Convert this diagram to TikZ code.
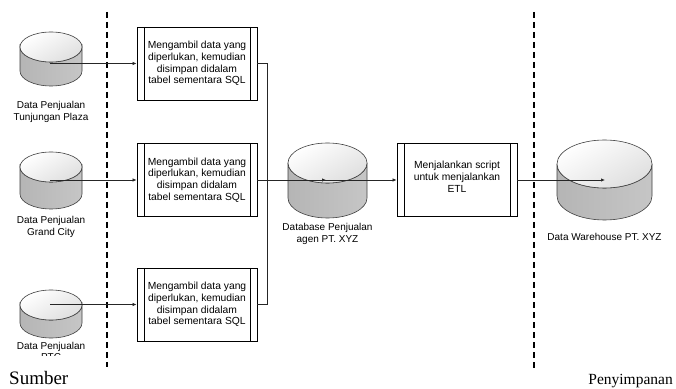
\documentclass[tikz,border=0pt]{standalone}
\usepackage{fontspec}
\setmainfont{Liberation Serif}
\newfontfamily\arialfont{Liberation Sans}
\usetikzlibrary{arrows.meta}

% drum-shaped data store: centre x, top y, bottom y, x radius, y radius
\newcommand\drumshape[5]{%
  \shadedraw[left color=gray!58, middle color=gray!10, right color=gray!45,
    draw=black!75, line width=0.6pt]
    ({#1-#4},{#2-#5}) -- ({#1-#4},{#3+#5})
    arc[start angle=180, end angle=360, x radius=#4, y radius=#5]
    -- ({#1+#4},{#2-#5})
    arc[start angle=0, end angle=-180, x radius=#4, y radius=#5] -- cycle;
  \shadedraw[top color=white, bottom color=gray!25, shading angle=30,
    draw=black!75, line width=0.6pt]
    ({#1},{#2-#5}) ellipse[x radius=#4, y radius=#5];
}

\begin{document}
\begin{tikzpicture}[x=1pt, y=1pt,
  proc/.style={draw, line width=0.8pt, minimum width=120pt, minimum height=73pt,
    inner sep=0pt, align=center,
    font=\arialfont\fontsize{10.3}{11.7}\selectfont,
    path picture={\draw[line width=0.8pt]
      ([xshift=7pt]path picture bounding box.north west) --
      ([xshift=7pt]path picture bounding box.south west)
      ([xshift=-7pt]path picture bounding box.north east) --
      ([xshift=-7pt]path picture bounding box.south east);}},
  lbl/.style={align=center, inner sep=0pt,
    font=\arialfont\fontsize{10}{11.5}\selectfont},
  wire/.style={line width=0.7pt, draw=black!85},
  conn/.style={wire, -{Latex[length=4pt, width=3.4pt]}},
  sep/.style={line width=1.6pt, dash pattern=on 6pt off 4pt},
  heading/.style={inner sep=0pt}]

\useasboundingbox (0,0) rectangle (676,388);
\fill[white] (0,0) rectangle (676,388);

% column separators
\coordinate (s1t) at (107,376);
\coordinate (s1b) at (107,21);
\coordinate (s2t) at (534,376);
\coordinate (s2b) at (534,18);
\draw[sep] (s1t) -- (s1b);
\draw[sep] (s2t) -- (s2b);

% source stores
\drumshape{51}{356}{302}{31}{15}
\drumshape{51}{236}{179}{31}{15}
\drumshape{51}{98}{50}{31}{15}
\coordinate (tp) at (50,324.5);
\coordinate (gc) at (50,208);
\coordinate (ptc) at (50,83.5);
\node[lbl] (tplbl) at (51,276) {Data Penjualan\\Tunjungan Plaza};
\node[lbl] (gclbl) at (51,161) {Data Penjualan\\Grand City};
\begin{scope}
  \clip (0,32.5) rectangle (104,60);
  \node[lbl] (ptclbl) at (51,36.5) {Data Penjualan\\PTC};
\end{scope}

% staging database and warehouse
\drumshape{327.5}{245}{170}{39.5}{20}
\drumshape{604.5}{248}{168}{47.5}{24}
\coordinate (db) at (326,208);
\coordinate (dw) at (605,208);
\node[lbl] (dblbl) at (327.5,154) {Database Penjualan\\agen PT. XYZ};
\node[lbl] (dwlbl) at (604.5,151) {Data Warehouse PT. XYZ};

% processes
\node[proc] (b1) at (197,324.5) {Mengambil data yang\\diperlukan, kemudian\\disimpan didalam\\tabel sementara SQL};
\node[proc] (b2) at (197,208) {Mengambil data yang\\diperlukan, kemudian\\disimpan didalam\\tabel sementara SQL};
\node[proc] (b3) at (197,83.5) {Mengambil data yang\\diperlukan, kemudian\\disimpan didalam\\tabel sementara SQL};
\node[proc] (b4) at (457,208) {Menjalankan script\\untuk menjalankan\\ETL\\[-5pt]{}};

% flows
\coordinate (jn) at (267,208);
\draw[conn] (tp) -- (b1.west);
\draw[conn] (gc) -- (b2.west);
\draw[conn] (ptc) -- (b3.west);
\draw[wire] (b1.east) -| (jn);
\draw[wire] (b3.east) -| (jn);
\draw[wire] (jn) -- (db);
\draw[conn] (b2.east) -- (db);
\draw[conn] (db) -- (b4.west);
\draw[conn] (b4.east) -- (dw);

% column headings
\node[heading, anchor=base west, font=\fontsize{19}{22}\selectfont] (sumber) at (9,4) {Sumber};
\node[heading, anchor=base east, font=\fontsize{15.5}{18}\selectfont] (simpan) at (673,4) {Penyimpanan};
\end{tikzpicture}
\end{document}
